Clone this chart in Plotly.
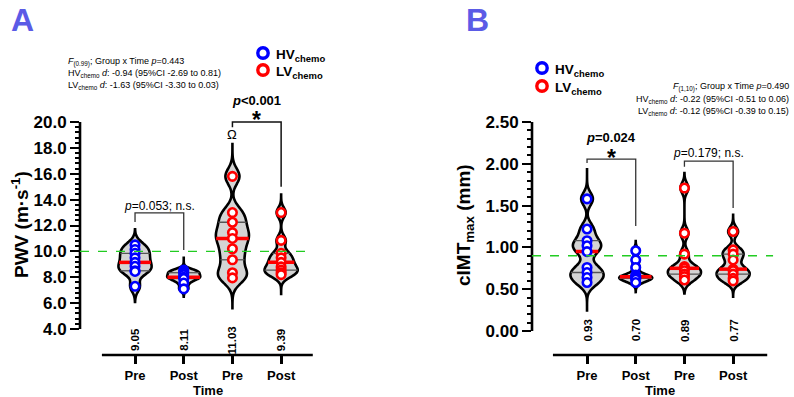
import numpy as np
import plotly.graph_objects as go

# ---------------- data ----------------
time_labels = ["Pre", "Post", "Pre", "Post"]
violin_group = ["HV", "HV", "LV", "LV"]
legend_groups = ["HV", "LV"]

# Panel A: PWV (m/s)
pwv_hv_pre = [10.5, 10.15, 9.85, 9.5, 9.15, 8.85, 8.5, 8.45, 7.3]
pwv_hv_post = [8.55, 8.45, 8.35, 8.2, 8.0, 7.95, 7.9, 7.55, 7.1]
pwv_lv_pre = [15.8, 13.0, 12.25, 11.45, 11.0, 10.2, 9.35, 8.35, 7.95]
pwv_lv_post = [13.0, 10.85, 9.85, 9.5, 9.15, 8.8, 8.55, 8.35, 8.2]
pwv_mean_labels = ["9.05", "8.11", "11.03", "9.39"]
pwv_ticks = [4, 6, 8, 10, 12, 14, 16, 18, 20]
pwv_ref = 10.0

# Panel B: cIMTmax (mm)
cimt_hv_pre = [1.58, 1.22, 1.08, 1.02, 0.95, 0.76, 0.70, 0.64, 0.58]
cimt_hv_post = [0.96, 0.85, 0.76, 0.67, 0.65, 0.64, 0.63, 0.62, 0.58]
cimt_lv_pre = [1.71, 1.17, 0.92, 0.77, 0.75, 0.72, 0.68, 0.65, 0.61]
cimt_lv_post = [1.19, 0.97, 0.92, 0.85, 0.74, 0.72, 0.68, 0.63, 0.60]
cimt_mean_labels = ["0.93", "0.70", "0.89", "0.77"]
cimt_ticks = [0, 0.5, 1.0, 1.5, 2.0, 2.5]
cimt_ref = 0.9

stats_a = ["<i>F</i><sub>(0.99)</sub>; Group x Time <i>p</i>=0.443",
           "HV<sub>chemo</sub> <i>d</i>: -0.94 (95%CI -2.69 to 0.81)",
           "LV<sub>chemo</sub> <i>d</i>: -1.63 (95%CI -3.30 to 0.03)"]
stats_b = ["<i>F</i><sub>(1,10)</sub>; Group x Time <i>p</i>=0.490",
           "HV<sub>chemo</sub> <i>d</i>: -0.22 (95%CI -0.51 to 0.06)",
           "LV<sub>chemo</sub> <i>d</i>: -0.12 (95%CI -0.39 to 0.15)"]

# ---------------- style ----------------
FONT = "Liberation Sans, Arial, sans-serif"
COLORS = {"HV": "#0000ff", "LV": "#ff0000"}
LETTER = "#5b5be6"
VW = 0.68  # violin width (data units)
PWV_BW = [0.42, 0.2, 0.6, 0.38]
PWV_SPAN = [(6.1, 11.7), (6.5, 9.6), (5.5, 18.4), (6.6, 14.4)]
CIMT_BW = [0.075, 0.035, 0.06, 0.055]
CIMT_SPAN = [(0.23, 1.95), (0.45, 1.09), (0.45, 1.89), (0.41, 1.39)]

W, H = 794, 397
PX = 48.7  # px per category


def kde_half(vals, bw, span, yv):
    v = np.asarray(vals, float)
    n = len(v)

    def dens(t):
        t = np.atleast_1d(t)
        return np.exp(-0.5 * ((t[:, None] - v[None, :]) / bw) ** 2).sum(1) / (n * bw * np.sqrt(2 * np.pi))
    nstep = int(np.ceil((span[1] - span[0]) / (bw / 3)))
    grid = np.linspace(span[0], span[1], nstep + 1)
    mx = dens(grid).max()
    return VW / 2 * dens(yv) / mx


fig = go.Figure()


def add_panel(series, bws, spans, xa, ya):
    qx, qy, mx_, my_ = [], [], [], []
    for i, vals in enumerate(series):
        fig.add_trace(go.Violin(
            x0=i, y=vals, xaxis=xa, yaxis=ya, width=VW, points=False,
            bandwidth=bws[i], spanmode="manual", span=list(spans[i]),
            scalemode="width", line=dict(color="black", width=2.6),
            fillcolor="#d4d4d4", box_visible=False, meanline_visible=False,
            showlegend=False, hoverinfo="skip"))
        q1, med, q3 = np.percentile(vals, [25, 50, 75])
        for q in (q1, q3):
            h = kde_half(vals, bws[i], spans[i], q)[0]
            qx += [i - h, i + h, None]
            qy += [q, q, None]
        h = kde_half(vals, bws[i], spans[i], med)[0]
        mx_ += [i - h, i + h, None]
        my_ += [med, med, None]
    fig.add_trace(go.Scatter(x=qx, y=qy, mode="lines", xaxis=xa, yaxis=ya,
                             line=dict(color="#555555", width=1.3), showlegend=False,
                             hoverinfo="skip"))
    fig.add_trace(go.Scatter(x=mx_, y=my_, mode="lines", xaxis=xa, yaxis=ya,
                             line=dict(color="#ff0000", width=3.5), showlegend=False,
                             hoverinfo="skip"))
    for i, vals in enumerate(series):
        fig.add_trace(go.Scatter(
            x=[i] * len(vals), y=vals, mode="markers", xaxis=xa, yaxis=ya,
            name=f"{violin_group[i]}chemo {time_labels[i]}",
            marker=dict(symbol="circle", size=8.5, color="white",
                        line=dict(color=COLORS[violin_group[i]], width=2.6)),
            showlegend=False, hoverinfo="skip"))


add_panel([pwv_hv_pre, pwv_hv_post, pwv_lv_pre, pwv_lv_post], PWV_BW, PWV_SPAN, "x", "y")
add_panel([cimt_hv_pre, cimt_hv_post, cimt_lv_pre, cimt_lv_post], CIMT_BW, CIMT_SPAN, "x2", "y2")

# ---------------- axes ----------------
xa_range = [-1.13, 3.70]
xb_range = [-1.13, 3.85]
xa_left, xb_left = 80, 532
ybot = 355
ya_range = [4 - (ybot - 329) / 12.94, 22.5]
ya_top_px = 122 - (22.5 - 20) * 12.94
yb_range = [(331 - ybot) / 83.6, 2.5]

common_x = dict(type="linear", showgrid=False, zeroline=False, showline=False,
                tickmode="array", tickvals=list(range(4)), ticktext=time_labels,
                ticks="outside", ticklen=8, tickwidth=2.5, tickcolor="black",
                tickfont=dict(family=FONT, size=13, color="black", weight="bold"),
                automargin=False)
fig.update_layout(
    xaxis=dict(common_x, range=xa_range, anchor="y",
               domain=[xa_left / W, (xa_left + (xa_range[1] - xa_range[0]) * PX) / W]),
    xaxis2=dict(common_x, range=xb_range, anchor="y2",
                domain=[xb_left / W, (xb_left + (xb_range[1] - xb_range[0]) * PX) / W]),
)
common_y = dict(showgrid=False, zeroline=False, showline=False, ticks="outside",
                ticklen=9, tickwidth=2.2, tickcolor="black", tickmode="array",
                tickfont=dict(family=FONT, size=17, color="black", weight="bold"),
                automargin=False)
fig.update_layout(
    yaxis=dict(common_y, range=ya_range, anchor="x", tickvals=pwv_ticks, tickformat=".1f",
               domain=[1 - ybot / H, 1 - ya_top_px / H],
               minor=dict(tickmode="array", tickvals=[v for v in np.arange(4, 20.01, 0.4)],
                          ticks="outside", ticklen=4.5, tickwidth=1.6, tickcolor="black")),
    yaxis2=dict(common_y, range=yb_range, anchor="x2", tickvals=cimt_ticks, tickformat=".2f",
                domain=[1 - ybot / H, 1 - 122 / H],
                minor=dict(tickmode="array", tickvals=[v for v in np.arange(0, 2.501, 0.1)],
                           ticks="outside", ticklen=4.5, tickwidth=1.6, tickcolor="black")),
)

shapes = []
# axis lines
shapes.append(dict(type="line", xref="x domain", yref="y", x0=0, x1=0, y0=4, y1=20,
                   line=dict(color="black", width=2.6)))
shapes.append(dict(type="line", xref="x", yref="y domain", x0=-0.68, x1=3.65, y0=0, y1=0,
                   line=dict(color="black", width=2.6)))
shapes.append(dict(type="line", xref="x2 domain", yref="y2", x0=0, x1=0, y0=0, y1=2.5,
                   line=dict(color="black", width=2.6)))
shapes.append(dict(type="line", xref="x2", yref="y2 domain", x0=-0.70, x1=3.70, y0=0, y1=0,
                   line=dict(color="black", width=2.6)))
# reference lines
shapes.append(dict(type="line", xref="x", yref="y", x0=xa_range[0], x1=3.6, y0=pwv_ref, y1=pwv_ref,
                   line=dict(color="#22cc22", width=1.3, dash="dash")))
shapes.append(dict(type="line", xref="x2", yref="y2", x0=xb_range[0], x1=3.82, y0=cimt_ref, y1=cimt_ref,
                   line=dict(color="#22cc22", width=1.3, dash="dash")))


def bracket(xr, yr, x0, x1, top, yl, yrgt, w=1.3, c="#333333"):
    shapes.append(dict(type="path", xref=xr, yref=yr,
                       path=f"M {x0},{yl} L {x0},{top} L {x1},{top} L {x1},{yrgt}",
                       line=dict(color=c, width=w)))


bracket("x", "y", 0, 1, 12.97, 12.28, 10.1)
bracket("x", "y", 2, 3, 20.0, 19.6, 15.0, w=1.5, c="#111111")
bracket("x2", "y2", 0, 1, 2.057, 2.01, 1.256)
bracket("x2", "y2", 2, 3, 2.033, 1.965, 1.47)

anns = []


def ann(text, x, y, xref="paper", yref="paper", size=12, bold=False, xanchor="center",
        yanchor="middle", angle=0, color="black"):
    anns.append(dict(text=text, x=x, y=y, xref=xref, yref=yref, showarrow=False,
                     xanchor=xanchor, yanchor=yanchor, textangle=angle,
                     font=dict(family=FONT, size=size, color=color,
                               weight="bold" if bold else "normal")))


# legends (circle symbol + label)
legend_pos = {"A": (263, [53, 70]), "B": (542, [68, 86])}
for cx, cys in legend_pos.values():
    for g, cy in zip(legend_groups, cys):
        shapes.append(dict(type="circle", xref="paper", yref="paper",
                           xsizemode="pixel", ysizemode="pixel",
                           xanchor=cx / W, yanchor=1 - cy / H, x0=-5.2, x1=5.2, y0=-5.2, y1=5.2,
                           line=dict(color=COLORS[g], width=3.4), fillcolor="white"))
        ann(f"{g}<sub>chemo</sub>", (cx + 11) / W, 1 - (cy + 2.5) / H, size=13.5, bold=True,
            xanchor="left")
fig.update_layout(shapes=shapes)

# panel letters
ann("A", 22 / W, 1 - 20 / H, size=32, bold=True, color=LETTER)
ann("B", 477 / W, 1 - 20 / H, size=32, bold=True, color=LETTER)
# stats
for k, t in enumerate(stats_a):
    ann(t, 66 / W, 1 - (62 + 11.5 * k) / H, size=9, xanchor="left")
for k, t in enumerate(stats_b):
    ann(t, 791 / W, 1 - (87 + 12 * k) / H, size=9, xanchor="right")
# y titles
ann("PWV (m·s<sup>-1</sup>)", 20 / W, 1 - 225 / H, size=19, bold=True, angle=-90)
ann("cIMT<sub>max</sub> (mm)", 465 / W, 1 - 225 / H, size=19, bold=True, angle=-90)
# x titles
ann("Time", 1.5, 1 - 390 / H, xref="x", size=13, bold=True)
ann("Time", 1.5, 1 - 390 / H, xref="x2", size=13, bold=True)
# mean labels
for i, t in enumerate(pwv_mean_labels):
    ann(t, i, 3.15, xref="x", yref="y", size=11.5, bold=True, angle=-90)
for i, t in enumerate(cimt_mean_labels):
    ann(t, i, 0.006, xref="x2", yref="y2", size=11.5, bold=True, angle=-90)
# bracket texts
ann("<i>p</i>=0.053; n.s.", 0.5, 13.5, xref="x", yref="y", size=12)
ann("<i>p</i>&lt;0.001", 2.5, 21.70, xref="x", yref="y", size=13, bold=True)
ann("*", 2.5, 20.134, xref="x", yref="y", size=23, bold=True)
ann("Ω", 2, 19.0, xref="x", yref="y", size=13)
ann("<i>p</i>=0.024", 0.5, 2.3146, xref="x2", yref="y2", size=13, bold=True)
ann("*", 0.5, 2.072, xref="x2", yref="y2", size=23, bold=True)
ann("<i>p</i>=0.179; n.s.", 2.5, 2.13, xref="x2", yref="y2", size=12)
fig.update_layout(annotations=anns)

fig.update_layout(
    violinmode="overlay", showlegend=False,
    width=W, height=H, margin=dict(l=0, r=0, t=0, b=0),
    paper_bgcolor="white", plot_bgcolor="white", template="none",
)

fig.write_html("out.html")
